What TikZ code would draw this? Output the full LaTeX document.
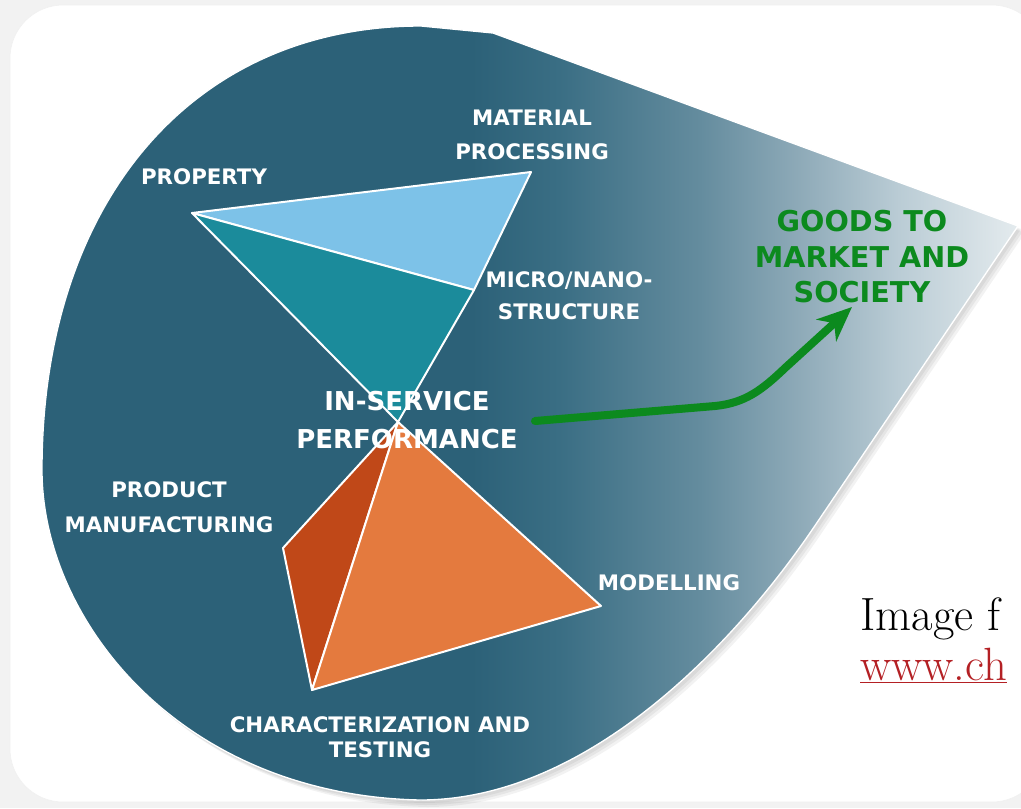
\documentclass[tikz,border=0pt]{standalone}
\usepackage{fontspec}
\newfontfamily\labelfont{DejaVu Sans}
\usetikzlibrary{arrows.meta}

\definecolor{slidegray}{RGB}{242,242,242}
\definecolor{tealdark}{RGB}{44,97,120}
\definecolor{tealA}{RGB}{58,110,132}
\definecolor{tealB}{RGB}{100,140,158}
\definecolor{tealC}{RGB}{142,170,184}
\definecolor{tealD}{RGB}{186,204,213}
\definecolor{tealE}{RGB}{228,235,238}
\definecolor{skyblue}{RGB}{125,194,232}
\definecolor{tealface}{RGB}{27,139,155}
\definecolor{rustface}{RGB}{192,72,24}
\definecolor{orangeface}{RGB}{228,122,62}
\definecolor{goodsgreen}{RGB}{12,138,30}
\definecolor{linkred}{RGB}{180,32,36}

\pgfdeclarehorizontalshading{teardrop}{100bp}{color(0bp)=(tealdark); color(47bp)=(tealdark);
	color(51.5bp)=(tealA); color(58.7bp)=(tealB); color(63.8bp)=(tealC);
	color(68.9bp)=(tealD); color(75bp)=(tealE); color(100bp)=(tealE)}

\newcommand{\teardroppath}{(493,33) -- (1018,226) -- (812,530)
	.. controls (737,640) and (590,800) .. (420,800)
	.. controls (180,795) and (42,620) .. (42,470)
	.. controls (42,205) and (190,26) .. (421,26) -- cycle}

\begin{document}
\begin{tikzpicture}[x=.75pt, y=-.75pt,
		lbl/.style={text=white, align=center, inner sep=0pt, font=\labelfont\bfseries\fontsize{16}{25}\selectfont},
		biglbl/.style={lbl, font=\labelfont\bfseries\fontsize{19.5}{29}\selectfont},
		goodslbl/.style={lbl, text=goodsgreen, font=\labelfont\bfseries\fontsize{21.5}{26.6}\selectfont},
		face/.style={draw=white, line width=1.5pt, line join=round}]
		\useasboundingbox (0,0) rectangle (1021,808);
		\clip (0,0) rectangle (1021,808);
		% slide
		\fill[slidegray] (0,0) rectangle (1021,808);
		\filldraw[white, draw=gray!12, rounded corners=40] (10,5) rectangle (1045,802);
		% teardrop
		\foreach \s in {7,5,3}
			\fill[black, opacity=.05, shift={(\s,\s)}] \teardroppath;
		\shade[shading=teardrop, draw=white, line width=1pt] \teardroppath;
		% corners of the hourglass
		\coordinate (prop) at (192,213);
		\coordinate (mat) at (531,172);
		\coordinate (micro) at (474,290);
		\coordinate (apex) at (398,422);
		\coordinate (prodv) at (283,548);
		\coordinate (charv) at (312,690);
		\coordinate (modv) at (601,606);
		% upper triangle
		\filldraw[face, fill=skyblue] (prop) -- (mat) -- (micro) -- cycle;
		\filldraw[face, fill=tealface] (prop) -- (micro) -- (apex) -- cycle;
		% lower pyramid
		\filldraw[face, fill=rustface] (apex) -- (prodv) -- (charv) -- cycle;
		\filldraw[face, fill=orangeface] (apex) -- (charv) -- (modv) -- cycle;
		% labels
		\node[lbl] (matproc) at (532,135) {MATERIAL\\PROCESSING};
		\node[lbl] (property) at (204,177) {PROPERTY};
		\node[lbl, font=\labelfont\bfseries\fontsize{16}{24}\selectfont] (nano) at (569,296) {MICRO/NANO-\\STRUCTURE};
		\node[biglbl] (perf) at (407,420) {IN-SERVICE\\PERFORMANCE};
		\node[lbl, font=\labelfont\bfseries\fontsize{16}{26}\selectfont] (prodman) at (169,507) {PRODUCT\\MANUFACTURING};
		\node[lbl] (model) at (669,583) {MODELLING};
		\node[lbl, font=\labelfont\bfseries\fontsize{16}{19}\selectfont] (chartest) at (380,737) {CHARACTERIZATION AND\\TESTING};
		\node[goodslbl] (goods) at (862,257) {GOODS TO\\MARKET AND\\SOCIETY};
		% arrow to market
		\coordinate (gstart) at (535,421);
		\coordinate (gend) at (852,307);
		\draw[goodsgreen, line width=6pt, line cap=round, -{Stealth[length=26pt, width=22pt, inset=8pt]}]
			(gstart) -- (715,406) .. controls (745,403) and (762,390) .. (785,368) -- (gend);
		% source note
		\node[anchor=base west, inner sep=0pt, font=\fontsize{35}{37}\selectfont] (imgsrc) at (860,630) {Image f};
		\node[anchor=base west, inner sep=0pt, text=linkred, font=\fontsize{35}{37}\selectfont] (imgurl) at (860,680) {\underline{www.ch}};
\end{tikzpicture}
\end{document}
